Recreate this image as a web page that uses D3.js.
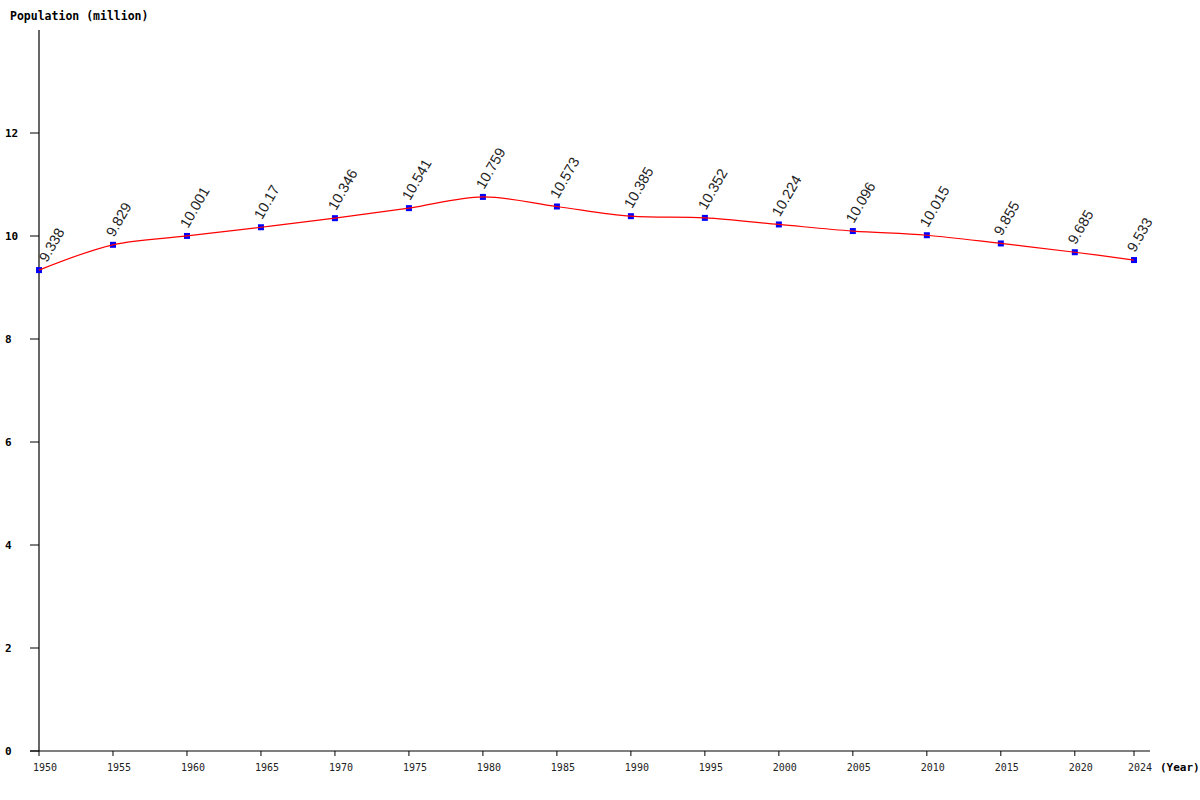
<!DOCTYPE html>
<html>
<head>
<meta charset="utf-8">
<script src="https://cdn.jsdelivr.net/npm/d3@7"></script>
<style>
  body { margin: 0; background: #fff; }
  svg { display: block; }
</style>
</head>
<body>
<div id="chart"></div>
<script>
// population data (million)
var years = [1950, 1955, 1960, 1965, 1970, 1975, 1980, 1985, 1990, 1995, 2000, 2005, 2010, 2015, 2020, 2024];
var population = [9.338, 9.829, 10.001, 10.17, 10.346, 10.541, 10.759, 10.573, 10.385, 10.352, 10.224, 10.096, 10.015, 9.855, 9.685, 9.533];
var labels = ["9.338", "9.829", "10.001", "10.17", "10.346", "10.541", "10.759", "10.573", "10.385", "10.352", "10.224", "10.096", "10.015", "9.855", "9.685", "9.533"];
var yTicks = [0, 2, 4, 6, 8, 10, 12];

var width = 1200, height = 800;
var mono = "'DejaVu Sans Mono', 'Liberation Mono', monospace";

var svg = d3.select("#chart").append("svg")
  .attr("width", width)
  .attr("height", height);

var x = d3.scaleLinear().domain([1950, 2024]).range([39, 1134]);
var y = d3.scaleLinear().domain([0, 14]).range([751, 30]);

// axes lines
svg.append("line")
  .attr("x1", 39).attr("x2", 39)
  .attr("y1", y(14)).attr("y2", y(0))
  .attr("stroke", "#000").attr("stroke-width", 1.2);
svg.append("line")
  .attr("x1", 30).attr("x2", 1150)
  .attr("y1", y(0)).attr("y2", y(0))
  .attr("stroke", "#000").attr("stroke-width", 1.2);

// y ticks
var yg = svg.append("g");
yg.selectAll("line").data(yTicks).enter().append("line")
  .attr("x1", 30).attr("x2", 39)
  .attr("y1", function (d) { return y(d); })
  .attr("y2", function (d) { return y(d); })
  .attr("stroke", "#000");
yg.selectAll("text").data(yTicks).enter().append("text")
  .attr("x", 5)
  .attr("y", function (d) { return y(d) + 4; })
  .attr("font-family", mono)
  .attr("font-weight", "bold")
  .attr("font-size", 11)
  .text(function (d) { return d; });

// x ticks
var xg = svg.append("g");
xg.selectAll("line").data(years).enter().append("line")
  .attr("x1", function (d) { return x(d); })
  .attr("x2", function (d) { return x(d); })
  .attr("y1", y(0)).attr("y2", y(0) + 5)
  .attr("stroke", "#000");
xg.selectAll("text").data(years).enter().append("text")
  .attr("x", function (d) { return x(d) + 6; })
  .attr("y", 771)
  .attr("text-anchor", "middle")
  .attr("font-family", mono)
  .attr("font-size", 10)
  .attr("fill", "#222")
  .text(function (d) { return d; });

// axis titles
svg.append("text")
  .attr("x", 10).attr("y", 20)
  .attr("font-family", mono)
  .attr("font-weight", "bold")
  .attr("font-size", 11.5)
  .text("Population (million)");
svg.append("text")
  .attr("x", 1160).attr("y", 771)
  .attr("font-family", mono)
  .attr("font-weight", "bold")
  .attr("font-size", 11)
  .text("(Year)");

var pts = years.map(function (d, i) { return [d, population[i]]; });

// markers
svg.selectAll("rect.pt").data(pts).enter().append("rect")
  .attr("class", "pt")
  .attr("x", function (d) { return x(d[0]) - 3; })
  .attr("y", function (d) { return y(d[1]) - 3; })
  .attr("width", 6).attr("height", 6)
  .attr("fill", "blue");

// line
var line = d3.line()
  .x(function (d) { return x(d[0]); })
  .y(function (d) { return y(d[1]); })
  .curve(d3.curveCatmullRom);
svg.append("path")
  .datum(pts)
  .attr("d", line)
  .attr("fill", "none")
  .attr("stroke", "red")
  .attr("stroke-width", 1.2);

// value labels (kept clear of the y axis)
svg.selectAll("text.val").data(pts).enter().append("text")
  .attr("class", "val")
  .attr("transform", function (d) {
    var lx = Math.max(x(d[0]) + 1, 47);
    return "translate(" + lx + "," + (y(d[1]) - 7) + ") rotate(-60)";
  })
  .attr("font-family", "'Liberation Sans', Arial, sans-serif")
  .attr("font-size", 14.5)
  .attr("fill", "#222")
  .text(function (d, i) { return labels[i]; });
</script>
</body>
</html>
